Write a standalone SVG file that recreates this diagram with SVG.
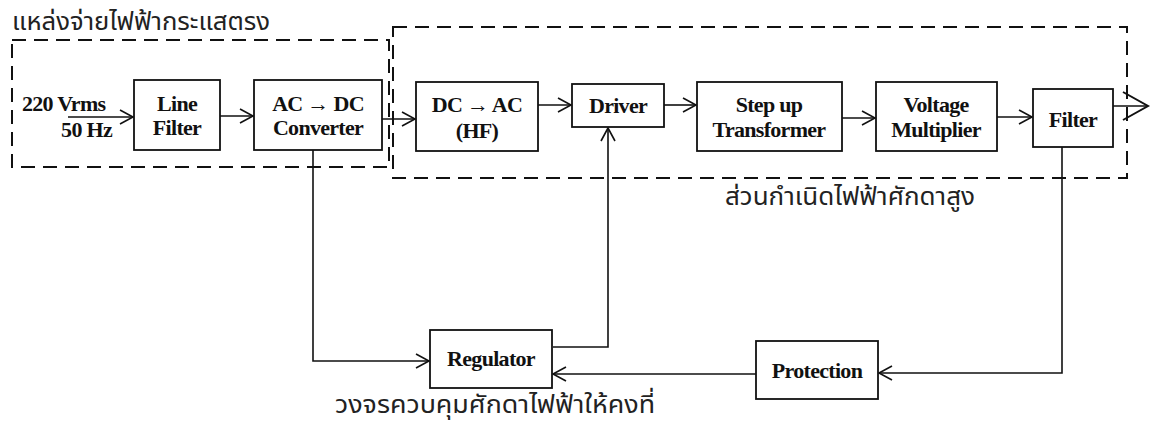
<svg xmlns="http://www.w3.org/2000/svg" width="1154" height="423" viewBox="0 0 1154 423">
<defs>
<marker id="arr" markerWidth="16" markerHeight="16" viewBox="0 0 16 16" refX="14" refY="8" orient="auto" markerUnits="userSpaceOnUse">
<path d="M1,1 L14,8 L1,15" fill="none" stroke="#111" stroke-width="1.6"/>
</marker>
<marker id="arrBig" markerWidth="30" markerHeight="32" viewBox="0 0 30 32" refX="27" refY="16" orient="auto" markerUnits="userSpaceOnUse">
<path d="M2,2 L27,16 L2,30" fill="none" stroke="#111" stroke-width="2"/>
</marker>
</defs>
<style>
.box{fill:#fff;stroke:#111;stroke-width:1.8}
.dash{fill:none;stroke:#111;stroke-width:2;stroke-dasharray:14 8}
.lbl{font-family:"Liberation Serif","Times New Roman",serif;font-weight:bold;font-size:22px;fill:#111;text-anchor:middle;letter-spacing:-0.7px}
.th{font-family:"Noto Sans Thai","Noto Sans","DejaVu Sans",sans-serif;font-size:25px;fill:#222}
.ln{fill:none;stroke:#111;stroke-width:1.6}
</style>
<rect width="1154" height="423" fill="#fff"/>
<g id="groups">
<rect class="dash" x="12" y="40" width="377" height="127"/>
<rect class="dash" x="393" y="27" width="734" height="151"/>
<text class="th" x="12" y="30" textLength="258" lengthAdjust="spacingAndGlyphs">แหล่งจ่ายไฟฟ้ากระแสตรง</text>
<text class="th" x="725" y="205" textLength="250" lengthAdjust="spacingAndGlyphs">ส่วนกำเนิดไฟฟ้าศักดาสูง</text>
<text class="th" x="335" y="413" textLength="320" lengthAdjust="spacingAndGlyphs">วงจรควบคุมศักดาไฟฟ้าให้คงที่</text>
</g>
<g id="input">
<text class="lbl" x="22" y="111" style="text-anchor:start">220 Vrms</text>
<text class="lbl" x="112" y="137" style="text-anchor:end">50 Hz</text>
</g>
<g id="connectors">
<line class="ln" x1="68" y1="117" x2="133" y2="117" marker-end="url(#arr)"/>
<line class="ln" x1="220" y1="116" x2="253" y2="116" marker-end="url(#arr)"/>
<line class="ln" x1="382" y1="119" x2="415" y2="119" marker-end="url(#arr)"/>
<line class="ln" x1="538" y1="105" x2="571" y2="105" marker-end="url(#arr)"/>
<line class="ln" x1="664" y1="105" x2="696" y2="105" marker-end="url(#arr)"/>
<line class="ln" x1="842" y1="118" x2="875" y2="118" marker-end="url(#arr)"/>
<line class="ln" x1="997" y1="117" x2="1032" y2="117" marker-end="url(#arr)"/>
<line class="ln" x1="1113" y1="106" x2="1148" y2="106" stroke-width="2" marker-end="url(#arrBig)"/>
<polyline class="ln" points="313,150 313,361 429,361" marker-end="url(#arr)"/>
<polyline class="ln" points="553,347 608,347 608,128" marker-end="url(#arr)"/>
<polyline class="ln" points="1062,147 1062,373 879,373" marker-end="url(#arr)"/>
<line class="ln" x1="756" y1="374" x2="553" y2="374" marker-end="url(#arr)"/>
</g>
<g id="line-filter">
<rect class="box" x="134" y="80" width="86" height="70"/>
<text class="lbl" x="177" y="111">Line</text>
<text class="lbl" x="177" y="135">Filter</text>
</g>
<g id="ac-dc">
<rect class="box" x="254" y="80" width="128" height="70"/>
<text class="lbl" x="318" y="111">AC → DC</text>
<text class="lbl" x="318" y="135">Converter</text>
</g>
<g id="dc-ac">
<rect class="box" x="416" y="82" width="122" height="69"/>
<text class="lbl" x="477" y="112">DC → AC</text>
<text class="lbl" x="477" y="138">(HF)</text>
</g>
<g id="driver">
<rect class="box" x="572" y="84" width="92" height="43"/>
<text class="lbl" x="618" y="113">Driver</text>
</g>
<g id="step-up">
<rect class="box" x="697" y="82" width="145" height="69"/>
<text class="lbl" x="769" y="112">Step up</text>
<text class="lbl" x="769" y="137">Transformer</text>
</g>
<g id="multiplier">
<rect class="box" x="876" y="82" width="121" height="69"/>
<text class="lbl" x="936" y="112">Voltage</text>
<text class="lbl" x="936" y="137">Multiplier</text>
</g>
<g id="filter">
<rect class="box" x="1033" y="89" width="80" height="58"/>
<text class="lbl" x="1073" y="127">Filter</text>
</g>
<g id="regulator">
<rect class="box" x="430" y="330" width="122" height="58"/>
<text class="lbl" x="491" y="366">Regulator</text>
</g>
<g id="protection">
<rect class="box" x="756" y="341" width="122" height="58"/>
<text class="lbl" x="817" y="378">Protection</text>
</g>
</svg>
